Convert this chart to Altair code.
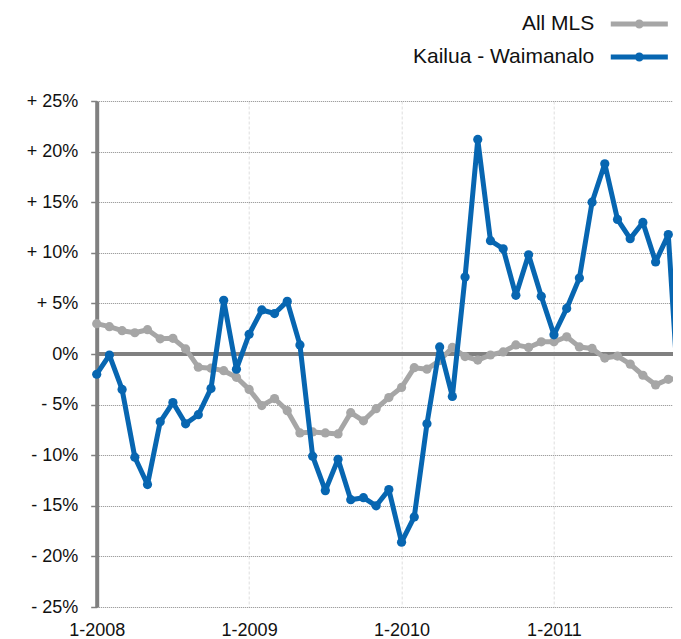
import altair as alt
import pandas as pd

# month index: 0 = Jan 2008
months = list(range(47))
kailua_waimanalo = [-2.0, -0.1, -3.5, -10.2, -12.9, -6.7, -4.8, -6.9, -6.0, -3.4, 5.3, -1.5,
                    1.95, 4.35, 4.0, 5.2, 0.9, -10.1, -13.5, -10.4, -14.4, -14.2, -15.0, -13.4,
                    -18.6, -16.1, -6.9, 0.7, -4.2, 7.6, 21.2, 11.2, 10.4, 5.8, 9.8, 5.7,
                    1.9, 4.5, 7.5, 15.0, 18.8, 13.3, 11.4, 13.0, 9.1, 11.8, -8.0]
all_mls = [3.0, 2.7, 2.3, 2.1, 2.4, 1.5, 1.55, 0.5, -1.3, -1.4, -1.65, -2.3,
           -3.5, -5.1, -4.4, -5.6, -7.8, -7.7, -7.8, -7.9, -5.8, -6.6, -5.4, -4.3,
           -3.3, -1.35, -1.5, -0.65, 0.65, -0.25, -0.6, -0.1, 0.2, 0.9, 0.65, 1.2,
           1.2, 1.7, 0.7, 0.55, -0.4, -0.2, -1.0, -2.1, -3.05, -2.5, -2.4]
series_names = ["All MLS", "Kailua - Waimanalo"]
series_colors = ["#a6a6a6", "#0766b1"]
year_ticks = [0, 12, 24, 36]
pct_ticks = [-25, -20, -15, -10, -5, 0, 5, 10, 15, 20, 25]

df_gray = pd.DataFrame({"month": months, "value": all_mls, "series": series_names[0]})
df_blue = pd.DataFrame({"month": months, "value": kailua_waimanalo, "series": series_names[1]})

FONT = "Liberation Sans"

x_enc = alt.X(
    "month:Q",
    scale=alt.Scale(domain=[0, 45.37], nice=False, zero=False),
    axis=alt.Axis(
        values=year_ticks,
        labelExpr="'1-' + (2008 + datum.value / 12)",
        grid=True, gridColor="#dedede", gridDash=[3, 2], gridWidth=1,
        domain=False, ticks=False, tickSize=0, labelFlush=False,
        labelPadding=14.5, labelFontSize=18, labelFont=FONT, labelColor="#111111",
        title=None,
    ),
)
y_enc = alt.Y(
    "value:Q",
    scale=alt.Scale(domain=[-25, 25], nice=False, zero=False),
    axis=alt.Axis(
        values=pct_ticks,
        labelExpr="datum.value > 0 ? '+ ' + datum.value + '%' : (datum.value < 0 ? '- ' + abs(datum.value) + '%' : '0%')",
        grid=True, gridColor="#8a8a8a", gridDash=[1, 1], gridWidth=1,
        domain=True, domainColor="#808080", domainWidth=4,
        ticks=True, tickSize=6, tickColor="#808080", tickWidth=1.5,
        labelPadding=13, labelFontSize=18, labelFont=FONT, labelColor="#111111",
        title=None,
    ),
)

legend_path = "M-3.17,0L3.17,0M-0.22,0A0.22,0.22,0,1,0,0.22,0A0.22,0.22,0,1,0,-0.22,0Z"
color_enc = alt.Color(
    "series:N",
    scale=alt.Scale(domain=series_names, range=series_colors),
    legend=alt.Legend(
        orient="none", legendX=531.1, legendY=-88.5, title=None, padding=0,
        symbolType=legend_path, symbolSize=324, symbolStrokeWidth=5, symbolOffset=0,
        labelAlign="right", labelOffset={"expr": "-56.5"}, labelFontSize=21, labelFont=FONT,
        labelColor="#111111", rowPadding=8, labelLimit=400,
    ),
)

zero_rule = alt.Chart(pd.DataFrame({"z": [0]})).mark_rule(color="#808080", strokeWidth=4).encode(
    y=alt.Y("z:Q")
)


def series_layer(df):
    return alt.Chart(df).mark_line(
        strokeWidth=5, strokeJoin="round",
        point=alt.OverlayMarkDef(size=85, filled=True, opacity=1),
    ).encode(x=x_enc, y=y_enc, color=color_enc)


chart = alt.layer(zero_rule, series_layer(df_gray), series_layer(df_blue)).properties(
    width=576.3,
    height=506,
    padding={"left": 88.7, "top": 93, "right": 0, "bottom": 32},
    autosize=alt.AutoSizeParams(type="none"),
    background="white",
).configure_view(strokeWidth=0)

chart.save("out.html", embed_options={"renderer": "svg", "actions": False})
